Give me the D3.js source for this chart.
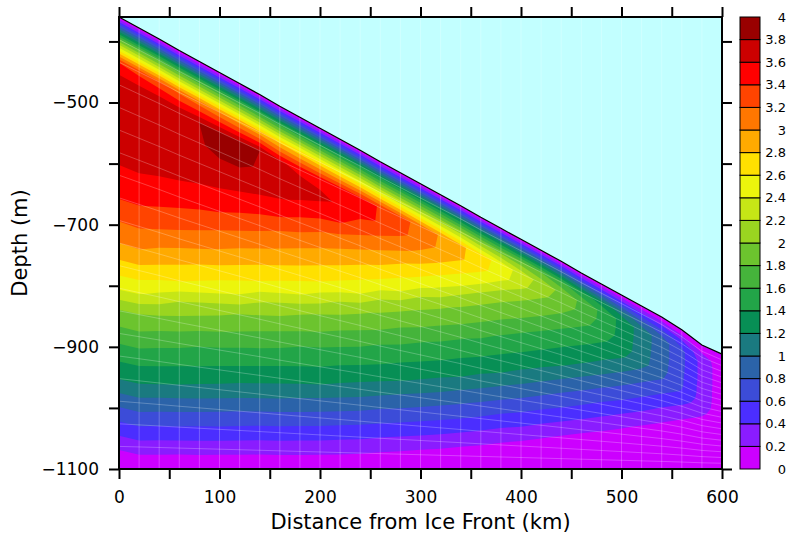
<!DOCTYPE html>
<html>
<head>
<meta charset="utf-8">
<title>Temperature beneath the ice shelf</title>
<script src="https://cdn.jsdelivr.net/npm/d3@7"></script>
<style>
  html, body { margin: 0; padding: 0; background: #ffffff; }
  svg { display: block; }
</style>
</head>
<body>
<svg id="chart" width="789" height="535"></svg>
<script>
// Stations along the section, measured from the ice front (km)
const distanceKm = [0, 20, 40, 60, 80, 100, 120, 140, 160, 180, 200, 220, 240, 260, 280, 300,
  320, 340, 360, 380, 400, 420, 440, 460, 480, 500, 520, 540, 560, 580, 600];

// Depth of the ice-shelf base above each station (m)
const iceBaseDepth = [-360, -378, -396, -415, -433, -451, -469, -487, -506, -524, -542, -560,
  -578, -597, -615, -633, -651, -669, -688, -706, -724, -742, -760, -779, -797, -815, -833,
  -851, -872, -897, -912];

// Flat seabed under the whole section (m)
const seabedDepth = -1100;

// Terrain-following model levels: 0 at the ice base, 1 at the seabed
const sigmaLevels = [0, 0.05, 0.1, 0.15, 0.2, 0.25, 0.3, 0.35, 0.4, 0.45, 0.5, 0.55, 0.6, 0.65,
  0.7, 0.75, 0.8, 0.85, 0.9, 0.95, 1];

// Temperature (deg C) on every model level, one profile per station, ice base first
const temperature = [
  [0, 1.84, 3.39, 3.77, 3.77, 3.76, 3.66, 3.55, 3.41, 3.21, 3.00, 2.73, 2.43, 1.98, 1.72, 1.46, 1.21, 0.88, 0.57, 0.25, -0.07],
  [0, 1.80, 3.32, 3.77, 3.77, 3.76, 3.67, 3.55, 3.41, 3.22, 3.01, 2.73, 2.43, 1.99, 1.74, 1.48, 1.24, 0.93, 0.62, 0.31, 0.00],
  [0, 1.76, 3.24, 3.78, 3.78, 3.75, 3.65, 3.52, 3.37, 3.17, 2.93, 2.67, 2.33, 1.95, 1.69, 1.45, 1.22, 0.90, 0.60, 0.30, 0.00],
  [0, 1.73, 3.16, 3.77, 3.78, 3.74, 3.63, 3.49, 3.32, 3.11, 2.86, 2.61, 2.20, 1.91, 1.65, 1.42, 1.19, 0.88, 0.59, 0.29, 0.00],
  [0, 1.69, 3.09, 3.801, 3.78, 3.73, 3.60, 3.45, 3.26, 3.05, 2.79, 2.54, 2.13, 1.86, 1.60, 1.39, 1.16, 0.86, 0.57, 0.29, 0.00],
  [0, 1.65, 3.01, 3.801, 3.85, 3.70, 3.58, 3.41, 3.19, 2.98, 2.73, 2.46, 2.06, 1.82, 1.57, 1.36, 1.13, 0.83, 0.56, 0.28, 0.00],
  [0, 1.61, 2.94, 3.801, 3.86, 3.69, 3.54, 3.34, 3.12, 2.90, 2.66, 2.38, 1.99, 1.77, 1.53, 1.33, 1.09, 0.80, 0.54, 0.27, 0.00],
  [0, 1.57, 2.86, 3.801, 3.77, 3.66, 3.49, 3.26, 3.05, 2.82, 2.59, 2.23, 1.94, 1.72, 1.50, 1.30, 1.06, 0.78, 0.52, 0.26, 0.00],
  [0, 1.53, 2.78, 3.62, 3.74, 3.62, 3.43, 3.17, 2.97, 2.75, 2.51, 2.14, 1.89, 1.67, 1.46, 1.27, 1.03, 0.76, 0.51, 0.26, 0.00],
  [0, 1.50, 2.71, 3.55, 3.70, 3.56, 3.33, 3.09, 2.89, 2.68, 2.43, 2.05, 1.84, 1.61, 1.43, 1.24, 0.99, 0.74, 0.49, 0.25, 0.00],
  [0, 1.46, 2.63, 3.52, 3.65, 3.48, 3.22, 3.01, 2.81, 2.60, 2.29, 1.98, 1.79, 1.57, 1.40, 1.21, 0.96, 0.71, 0.48, 0.24, 0.00],
  [0, 1.42, 2.55, 3.50, 3.57, 3.42, 3.13, 2.93, 2.73, 2.50, 2.15, 1.92, 1.72, 1.52, 1.35, 1.16, 0.92, 0.68, 0.45, 0.23, -0.01],
  [0, 1.38, 2.48, 3.45, 3.46, 3.27, 3.05, 2.84, 2.63, 2.40, 2.05, 1.86, 1.66, 1.48, 1.31, 1.11, 0.88, 0.65, 0.43, 0.21, -0.02],
  [0, 1.34, 2.40, 3.39, 3.38, 3.16, 2.95, 2.74, 2.52, 2.19, 1.96, 1.79, 1.58, 1.43, 1.26, 1.05, 0.82, 0.61, 0.39, 0.18, -0.03],
  [0, 1.31, 2.32, 3.27, 3.25, 3.06, 2.83, 2.62, 2.40, 2.07, 1.88, 1.70, 1.53, 1.37, 1.21, 0.99, 0.78, 0.57, 0.36, 0.16, -0.05],
  [0, 1.27, 2.25, 3.13, 3.11, 2.94, 2.71, 2.50, 2.18, 1.97, 1.81, 1.62, 1.47, 1.32, 1.15, 0.93, 0.73, 0.53, 0.33, 0.13, -0.07],
  [0, 1.23, 2.17, 2.98, 2.96, 2.79, 2.57, 2.34, 2.05, 1.89, 1.72, 1.55, 1.41, 1.26, 1.08, 0.87, 0.68, 0.49, 0.30, 0.11, -0.09],
  [0, 1.18, 2.10, 2.84, 2.83, 2.63, 2.43, 2.13, 1.94, 1.80, 1.62, 1.48, 1.34, 1.20, 1.00, 0.81, 0.63, 0.44, 0.26, 0.07, -0.10],
  [0, 1.13, 2.02, 2.69, 2.66, 2.48, 2.19, 1.99, 1.85, 1.69, 1.54, 1.41, 1.27, 1.11, 0.92, 0.74, 0.57, 0.39, 0.22, 0.04, -0.10],
  [0, 1.08, 1.94, 2.52, 2.49, 2.23, 2.02, 1.88, 1.74, 1.58, 1.46, 1.33, 1.20, 1.02, 0.84, 0.67, 0.50, 0.33, 0.17, 0.00, -0.10],
  [0, 1.03, 1.87, 2.32, 2.27, 2.05, 1.91, 1.78, 1.62, 1.50, 1.38, 1.25, 1.10, 0.93, 0.77, 0.61, 0.45, 0.29, 0.13, -0.04, -0.10],
  [0, 0.98, 1.79, 2.13, 2.05, 1.92, 1.80, 1.65, 1.52, 1.41, 1.29, 1.16, 1.00, 0.84, 0.69, 0.53, 0.38, 0.23, 0.08, -0.08, -0.10],
  [0, 0.89, 1.64, 1.95, 1.91, 1.80, 1.66, 1.54, 1.43, 1.32, 1.21, 1.05, 0.90, 0.75, 0.61, 0.46, 0.32, 0.17, 0.03, -0.10, -0.10],
  [0, 0.78, 1.47, 1.76, 1.75, 1.65, 1.54, 1.44, 1.33, 1.23, 1.09, 0.94, 0.80, 0.66, 0.53, 0.39, 0.25, 0.11, -0.03, -0.10, -0.10],
  [0, 0.67, 1.31, 1.56, 1.55, 1.53, 1.43, 1.33, 1.23, 1.11, 0.97, 0.83, 0.70, 0.57, 0.44, 0.32, 0.19, 0.06, -0.07, -0.10, -0.10],
  [0, 0.55, 1.10, 1.34, 1.34, 1.33, 1.32, 1.23, 1.11, 0.98, 0.85, 0.73, 0.61, 0.48, 0.36, 0.24, 0.12, 0.00, -0.10, -0.10, -0.10],
  [0, 0.44, 0.88, 1.11, 1.11, 1.10, 1.09, 1.07, 0.96, 0.84, 0.73, 0.62, 0.50, 0.39, 0.28, 0.16, 0.05, -0.07, -0.10, -0.10, -0.10],
  [0, 0.36, 0.71, 0.89, 0.89, 0.89, 0.88, 0.87, 0.82, 0.71, 0.61, 0.50, 0.39, 0.29, 0.19, 0.08, -0.03, -0.10, -0.10, -0.10, -0.10],
  [0, 0.26, 0.53, 0.65, 0.65, 0.65, 0.64, 0.63, 0.62, 0.58, 0.48, 0.38, 0.29, 0.19, 0.09, -0.01, -0.10, -0.10, -0.10, -0.10, -0.10],
  [0, 0.15, 0.30, 0.33, 0.33, 0.33, 0.33, 0.32, 0.32, 0.31, 0.30, 0.24, 0.16, 0.07, -0.02, -0.10, -0.10, -0.10, -0.10, -0.10, -0.10],
  [0, 0.06, 0.08, 0.08, 0.08, 0.08, 0.08, 0.08, 0.08, 0.08, 0.07, 0.06, 0.04, -0.02, -0.10, -0.10, -0.10, -0.10, -0.10, -0.10, -0.10]
];

// Colour-bar levels and the fill colour of each interval between them
const contourLevels = [0, 0.2, 0.4, 0.6, 0.8, 1, 1.2, 1.4, 1.6, 1.8, 2, 2.2, 2.4, 2.6, 2.8, 3,
  3.2, 3.4, 3.6, 3.8, 4];
const bandColors = ["#cc00ff", "#8a1cff", "#4b2eff", "#3c4cd8", "#2b63a9", "#1a7a80",
  "#078f55", "#22a548", "#45b43b", "#6cc42e", "#9ad520", "#c6e616", "#ecf50c", "#ffe000",
  "#ffaa00", "#ff7700", "#ff4400", "#ff0000", "#cc0000", "#990000"];

// Ice shelf colour
const iceColor = "#c2ffff";

// Axis ticks and labels
const xTickValues = [0, 50, 100, 150, 200, 250, 300, 350, 400, 450, 500, 550, 600];
const xTickLabels = [0, 100, 200, 300, 400, 500, 600];
const yTickValues = [-400, -500, -600, -700, -800, -900, -1000, -1100];
const yTickLabels = [-500, -700, -900, -1100];

const FONT = "'DejaVu Sans', Verdana, sans-serif";
const svg = d3.select("#chart");

const x = d3.scaleLinear().domain([0, 600]).range([119, 722]);
const y = d3.scaleLinear().domain([seabedDepth, iceBaseDepth[0]]).range([469, 17]);
const [plotLeft, plotRight] = x.range();
const [plotBottom, plotTop] = y.range();

// ---- filled contours on the terrain-following grid ----
const nx = distanceKm.length, ny = sigmaLevels.length;
const grid = new Float64Array(nx * ny);
temperature.forEach((profile, i) => profile.forEach((v, j) => { grid[j * nx + i] = v; }));

const fillLevels = [d3.min(grid)].concat(contourLevels.slice(1, -1));
const bands = d3.contours().size([nx, ny]).thresholds(fillLevels)(grid);

const nodeDepth = (i, j) => iceBaseDepth[i] + sigmaLevels[j] * (seabedDepth - iceBaseDepth[i]);

// grid coordinates from d3.contours -> (distance, depth) -> screen
function toScreen(p) {
  const fi = Math.max(0, Math.min(nx - 1, p[0] - 0.5));
  const fj = Math.max(0, Math.min(ny - 1, p[1] - 0.5));
  const i0 = Math.min(nx - 2, Math.floor(fi)), tx = fi - i0;
  const j0 = Math.min(ny - 2, Math.floor(fj)), ty = fj - j0;
  const km = distanceKm[i0] + tx * (distanceKm[i0 + 1] - distanceKm[i0]);
  const zTop = nodeDepth(i0, j0) * (1 - tx) + nodeDepth(i0 + 1, j0) * tx;
  const zBot = nodeDepth(i0, j0 + 1) * (1 - tx) + nodeDepth(i0 + 1, j0 + 1) * tx;
  return [x(km), y(zTop + (zBot - zTop) * ty)];
}
const ringPath = ring => "M" + ring.map(p => toScreen(p).map(v => v.toFixed(2)).join(",")).join("L") + "Z";

svg.append("g").attr("class", "bands")
  .selectAll("path").data(bands).join("path")
  .attr("d", b => b.coordinates.map(poly => poly.map(ringPath).join("")).join(""))
  .attr("fill", (b, k) => bandColors[k])
  .attr("fill-rule", "evenodd");

// ---- ice shelf ----
const iceProfile = distanceKm.map((d, i) => [d, iceBaseDepth[i]]);
svg.append("path").datum(iceProfile)
  .attr("d", d3.area().x(d => x(d[0])).y0(y(iceBaseDepth[0])).y1(d => y(d[1])))
  .attr("fill", iceColor);

// ---- model grid seams ----
const mesh = svg.append("g").attr("fill", "none").attr("stroke", "#ffffff")
  .attr("stroke-opacity", 0.24).attr("stroke-width", 1);
distanceKm.slice(1, -1).forEach(d => {
  mesh.append("line").attr("x1", x(d)).attr("x2", x(d)).attr("y1", plotTop).attr("y2", plotBottom);
});
sigmaLevels.slice(1, -1).forEach((s, k) => {
  const j = k + 1;
  mesh.append("path").attr("d", d3.line()(distanceKm.map((d, i) => [x(d), y(nodeDepth(i, j))])));
});

// ice base outline
svg.append("path").datum(iceProfile)
  .attr("d", d3.line().x(d => x(d[0])).y(d => y(d[1])))
  .attr("fill", "none").attr("stroke", "#000").attr("stroke-width", 1.2);

// ---- axes ----
function styleAxis(g) {
  g.select(".domain").remove();
  g.attr("font-family", FONT).attr("font-size", 17);
  g.selectAll(".tick line").attr("stroke", "#000").attr("stroke-width", 2);
  g.selectAll(".tick text").attr("fill", "#000");
}
const fmt = d3.format("d");
svg.append("g").attr("transform", `translate(0,${plotBottom})`)
  .call(d3.axisBottom(x).tickValues(xTickValues).tickSize(10).tickPadding(12)
    .tickFormat(d => xTickLabels.includes(d) ? fmt(d) : ""))
  .call(styleAxis);
svg.append("g").attr("transform", `translate(0,${plotTop})`)
  .call(d3.axisTop(x).tickValues(xTickValues).tickSize(10).tickFormat(() => ""))
  .call(styleAxis);
svg.append("g").attr("transform", `translate(${plotLeft},0)`)
  .call(d3.axisLeft(y).tickValues(yTickValues).tickSize(10).tickPadding(10)
    .tickFormat(d => yTickLabels.includes(d) ? fmt(d) : ""))
  .call(styleAxis);
svg.append("g").attr("transform", `translate(${plotRight},0)`)
  .call(d3.axisRight(y).tickValues(yTickValues).tickSize(10).tickFormat(() => ""))
  .call(styleAxis);

svg.append("rect")
  .attr("x", plotLeft).attr("y", plotTop)
  .attr("width", plotRight - plotLeft).attr("height", plotBottom - plotTop)
  .attr("fill", "none").attr("stroke", "#000").attr("stroke-width", 2);

// axis titles
svg.append("text")
  .attr("x", (plotLeft + plotRight) / 2).attr("y", 529)
  .attr("text-anchor", "middle").attr("font-family", FONT).attr("font-size", 21)
  .text("Distance from Ice Front (km)");
svg.append("text")
  .attr("transform", `translate(27,${(plotTop + plotBottom) / 2}) rotate(-90)`)
  .attr("text-anchor", "middle").attr("font-family", FONT).attr("font-size", 21)
  .text("Depth (m)");

// ---- colour bar ----
const cbLeft = 740, cbWidth = 20;
const cb = d3.scaleLinear().domain([contourLevels[0], contourLevels[contourLevels.length - 1]])
  .range([plotBottom, plotTop]);
const cbG = svg.append("g");
bandColors.forEach((c, k) => {
  cbG.append("rect")
    .attr("x", cbLeft).attr("y", cb(contourLevels[k + 1]))
    .attr("width", cbWidth).attr("height", cb(contourLevels[k]) - cb(contourLevels[k + 1]))
    .attr("fill", c).attr("stroke", "#000").attr("stroke-width", 1);
});
const cbFmt = d3.format("~g");
contourLevels.forEach(v => {
  cbG.append("text")
    .attr("x", 786).attr("y", cb(v)).attr("dy", "0.36em")
    .attr("text-anchor", "end").attr("font-family", FONT).attr("font-size", 13)
    .text(cbFmt(v));
});
</script>
</body>
</html>
